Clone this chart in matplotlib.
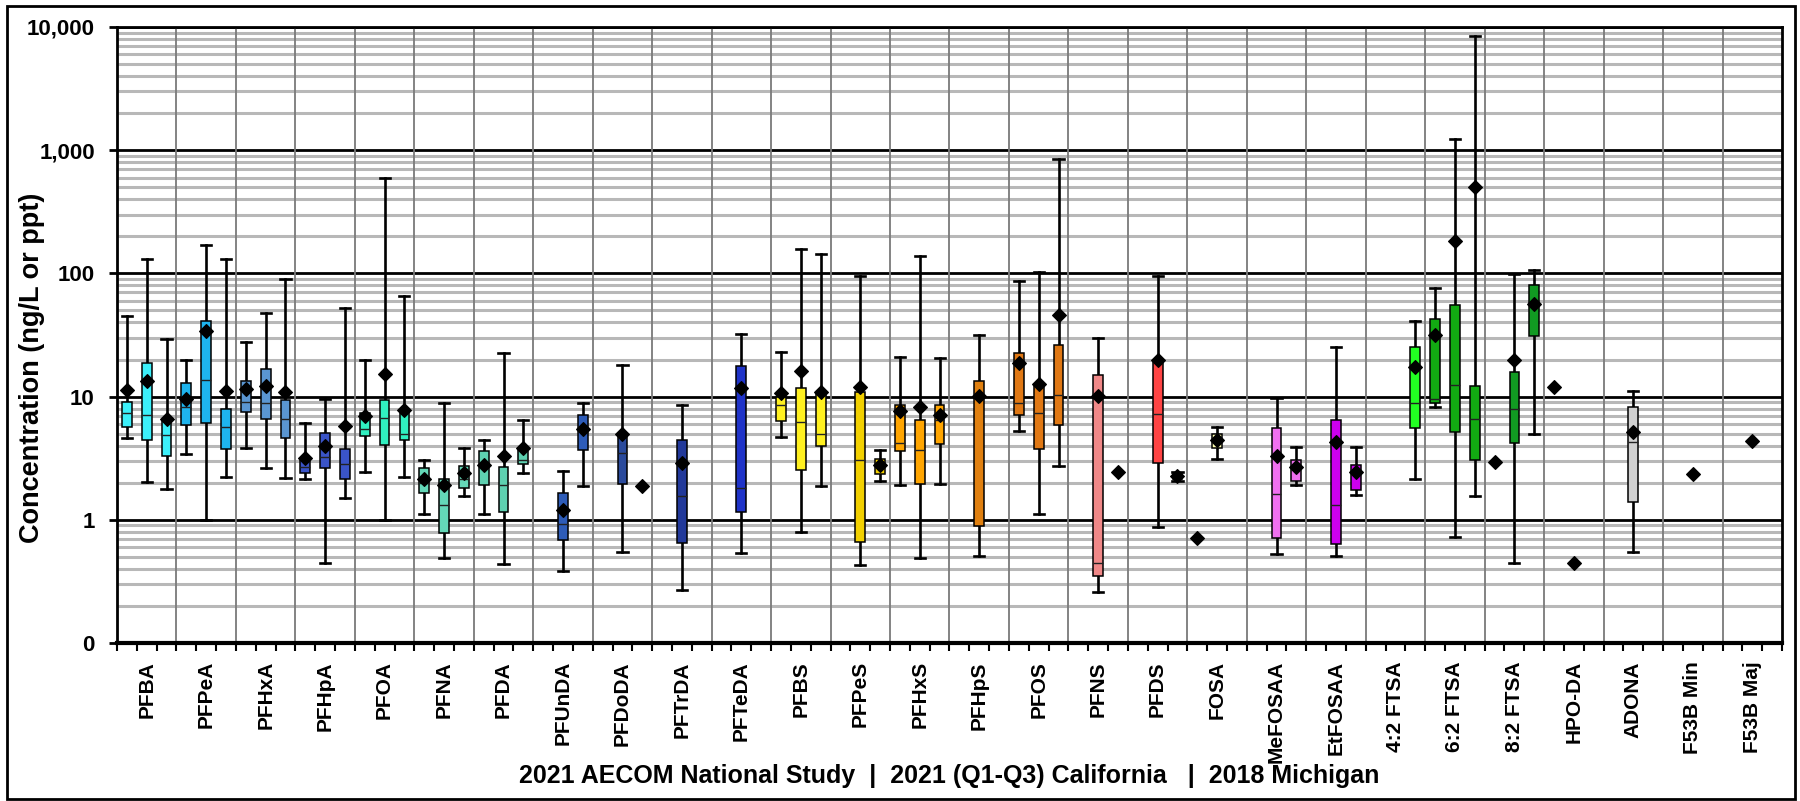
import matplotlib
matplotlib.use("Agg")
import matplotlib.pyplot as plt
from matplotlib.ticker import FixedLocator, NullFormatter
from matplotlib.patches import Rectangle

# ---------------- data ----------------
categories = ["PFBA", "PFPeA", "PFHxA", "PFHpA", "PFOA", "PFNA", "PFDA", "PFUnDA",
              "PFDoDA", "PFTrDA", "PFTeDA", "PFBS", "PFPeS", "PFHxS", "PFHpS", "PFOS",
              "PFNS", "PFDS", "FOSA", "MeFOSAA", "EtFOSAA", "4:2 FTSA", "6:2 FTSA",
              "8:2 FTSA", "HPO-DA", "ADONA", "F53B Min", "F53B Maj"]

colors = ["#3CF0FA", "#1EB4EE", "#5A96D2", "#3A54C8", "#30F0C0", "#64D8B8", "#5ED0B0",
          "#2E5CB8", "#2A4A9C", "#22399A", "#1F33C8", "#FFF020", "#F2D000", "#FFA500",
          "#E08010", "#E07814", "#F08888", "#FF4444", "#FFFFB0", "#F070F0", "#CC00EE",
          "#22FF22", "#12AA12", "#119A22", "#D0D0D0", "#D0D0D0", "#D0D0D0", "#D0D0D0"]

# (whisker low, Q1, median, Q3, whisker high, mean); None = not reported
# entries with only a mean use None for the box statistics
national = [
    (4.6, 5.7, 7.3, 9.0, 44.7, 11.3),
    (3.4, 5.85, 8.3, 12.9, 20.0, 9.6),
    (3.8, 7.55, 9.05, 13.5, 27.8, 11.6),
    (2.14, 2.41, 2.68, 3.1, 6.1, 3.19),
    (2.44, 4.82, 5.45, 7.3, 19.9, 6.96),
    (1.12, 1.65, 2.0, 2.65, 3.05, 2.14),
    (1.12, 1.93, 2.77, 3.61, 4.47, 2.8),
    None, None, None, None,
    (4.73, 6.34, 8.55, 10.0, 23.0, 10.6),
    None,
    (1.91, 3.61, 4.22, 8.6, 21.0, 7.64),
    None,
    (5.22, 7.1, 8.93, 22.5, 87.0, 18.8),
    None, None,
    (None, None, None, None, None, 0.714),
    None, None, None,
    (8.2, 8.9, 9.6, 42.9, 76.2, 31.5),
    (None, None, None, None, None, 2.96),
    (None, None, None, None, None, 11.9),
    None, None, None,
]

california = [
    (2.01, 4.48, 7.1, 18.9, 130.0, 13.5),
    (1.0, 6.15, 13.6, 41.2, 170.0, 34.0),
    (2.61, 6.58, 8.87, 16.8, 47.3, 12.3),
    (0.447, 2.65, 3.23, 5.1, 9.57, 3.97),
    (1.0, 4.02, 6.75, 9.47, 596.0, 15.3),
    (0.488, 0.78, 1.33, 2.15, 8.93, 1.91),
    (0.438, 1.15, 1.93, 2.7, 22.8, 3.27),
    (0.383, 0.687, 0.916, 1.65, 2.49, 1.19),
    (0.546, 1.96, 3.51, 5.0, 17.9, 5.0),
    (0.27, 0.65, 1.55, 4.42, 8.5, 2.9),
    (0.536, 1.15, 1.81, 17.7, 32.5, 11.7),
    (0.8, 2.52, 6.2, 11.7, 158.0, 16.0),
    (0.428, 0.66, 3.07, 11.0, 96.0, 11.9),
    (0.488, 1.96, 3.7, 6.43, 138.0, 8.24),
    (0.513, 0.894, 9.8, 13.3, 31.7, 10.1),
    (1.12, 3.77, 7.4, 12.6, 102.5, 12.6),
    (0.261, 0.352, 0.445, 15.1, 30.0, 10.2),
    (0.87, 2.89, 7.18, 19.1, 95.0, 20.0),
    (3.11, 3.85, 4.42, 4.94, 5.66, 4.42),
    (0.523, 0.71, 1.61, 5.56, 9.7, 3.27),
    (0.51, 0.638, 1.33, 6.43, 25.4, 4.26),
    None,
    (0.728, 5.13, 12.5, 55.8, 1225.0, 184.0),
    (0.447, 4.2, 7.98, 15.7, 99.3, 19.9),
    (None, None, None, None, None, 0.45),
    (0.55, 1.4, 4.3, 8.3, 11.1, 5.2),
    (None, None, None, None, None, 2.34),
    (None, None, None, None, None, 4.36),
]

michigan = [
    (1.78, 3.27, 4.88, 6.3, 29.3, 6.62),
    (2.22, 3.77, 5.66, 7.98, 130.0, 11.1),
    (2.19, 4.61, 6.58, 9.46, 90.5, 10.9),
    (1.5, 2.15, 2.82, 3.76, 51.9, 5.78),
    (2.24, 4.42, 5.0, 7.75, 65.0, 7.83),
    (1.57, 1.81, 2.15, 2.73, 3.8, 2.39),
    (2.39, 2.85, 3.07, 3.85, 6.5, 3.83),
    (1.87, 3.66, 5.42, 7.14, 8.83, 5.46),
    (None, None, None, None, None, 1.87),
    None, None,
    (1.87, 3.97, 5.0, 10.6, 145.0, 11.0),
    (2.05, 2.36, 2.77, 3.13, 3.66, 2.77),
    (1.95, 4.1, 6.43, 8.6, 20.4, 7.05),
    None,
    (2.75, 5.85, 10.4, 26.1, 841.0, 45.6),
    (None, None, None, None, None, 2.44),
    (2.05, 2.15, 2.25, 2.35, 2.45, 2.25),
    None,
    (1.9, 2.05, 2.68, 3.07, 3.87, 2.68),
    (1.6, 1.76, 2.44, 2.76, 3.88, 2.44),
    (2.14, 5.55, 8.83, 25.2, 41.3, 17.3),
    (1.57, 3.03, 6.58, 12.2, 8380.0, 501.0),
    (4.98, 30.8, 56.8, 81.0, 107.0, 56.8),
    None, None, None, None,
]

y_ticks = [0.1, 1, 10, 100, 1000, 10000]
y_ticklabels = ["0", "1", "10", "100", "1,000", "10,000"]
xlabel_text = "2021 AECOM National Study  |  2021 (Q1-Q3) California   |  2018 Michigan"
ylabel_text = "Concentration (ng/L or ppt)"

# ---------------- plot ----------------
plt.rcParams['font.family'] = ['Liberation Sans', 'DejaVu Sans']
plt.rcParams['font.weight'] = 'bold'

W, H = 1800, 801
fig = plt.figure(figsize=(W / 100, H / 100), dpi=100)
ax = fig.add_axes([117 / W, 1 - 643 / H, (1782 - 117) / W, (643 - 27) / H])
ax.set_yscale('log')

mean_style = dict(marker='D', markerfacecolor='black', markeredgecolor='black',
                  markersize=7.4, markeredgewidth=0.8)

for k, data in enumerate([national, california, michigan]):
    stats, pos, cols = [], [], []
    for i, entry in enumerate(data):
        if entry is None:
            continue
        lo, q1, med, q3, hi, mean = entry
        x = i + (k + 0.5) / 3
        if lo is None:
            ax.plot([x], [mean], linestyle='none', zorder=5, **mean_style)
            continue
        stats.append(dict(whislo=lo, q1=q1, med=med, q3=q3, whishi=hi, mean=mean))
        pos.append(x)
        cols.append(colors[i])
    bp = ax.bxp(stats, positions=pos, widths=0.165, capwidths=0.17, showmeans=True,
                showfliers=False, patch_artist=True, manage_ticks=False,
                boxprops=dict(edgecolor='black', linewidth=1.1),
                whiskerprops=dict(color='black', linewidth=1.9),
                capprops=dict(color='black', linewidth=1.9),
                medianprops=dict(color='#222222', linewidth=1.0),
                meanprops=mean_style)
    for patch, c in zip(bp['boxes'], cols):
        patch.set_facecolor(c)
        patch.set_zorder(3)
    for m in bp['means']:
        m.set_zorder(5)
    for m in bp['medians']:
        m.set_zorder(3.5)

ax.set_ylim(0.1, 10000)
ax.set_xlim(0, len(categories))

ax.yaxis.set_major_locator(FixedLocator(y_ticks))
ax.set_yticklabels(y_ticklabels, fontsize=16, fontweight='bold')
minor = [m * 10.0 ** e for e in range(-1, 4) for m in range(2, 10)]
ax.yaxis.set_minor_locator(FixedLocator(minor))
ax.yaxis.set_minor_formatter(NullFormatter())
ax.tick_params(axis='y', which='major', length=6, width=2, pad=10)
ax.tick_params(axis='y', which='minor', length=0)
ax.yaxis.grid(True, which='major', color='black', lw=2.0, zorder=0.5)
ax.yaxis.grid(True, which='minor', color='#B8B8B8', lw=2.2, zorder=0.4)
ax.set_axisbelow(True)

# x axis: labels at category centres, tick marks every third
ax.xaxis.set_major_locator(FixedLocator([i + 0.5 for i in range(len(categories))]))
ax.set_xticklabels(categories, rotation=90, fontsize=15, fontweight='bold', va='top')
ax.xaxis.set_minor_locator(FixedLocator([j / 3 for j in range(3 * len(categories) + 1)]))
ax.xaxis.set_minor_formatter(NullFormatter())
ax.tick_params(axis='x', which='major', length=0, pad=13)
ax.tick_params(axis='x', which='minor', length=6, width=1.5)
for i in range(1, len(categories)):
    ax.axvline(i, color='#7A7A7A', lw=1.3, zorder=0.6)

for s in ax.spines.values():
    s.set_linewidth(2)
    s.set_color('black')
ax.spines['bottom'].set_linewidth(3)

fig.text(32 / W, 1 - 368 / H, ylabel_text, rotation=90, ha='center', va='center',
         fontsize=19.5, fontweight='bold')
fig.text(949 / W, 1 - 776 / H, xlabel_text, ha='center', va='center',
         fontsize=18, fontweight='bold')

fig.patches.append(Rectangle((7 / W, 2 / H), (1795 - 7) / W, (795 - 2) / H,
                             transform=fig.transFigure, fill=False,
                             edgecolor='black', linewidth=2))

fig.savefig("out.png", dpi=100, facecolor='white')
